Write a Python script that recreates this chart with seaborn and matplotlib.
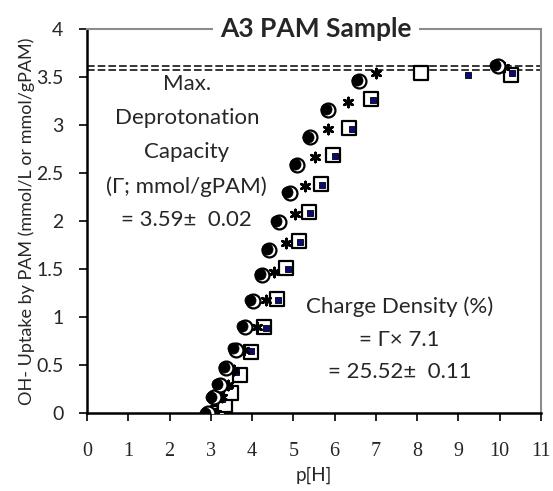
import matplotlib
matplotlib.use("Agg")
import matplotlib.pyplot as plt
import seaborn as sns
import pandas as pd

# ---- data ----
circle_open_x = [2.93, 3.07, 3.22, 3.38, 3.60, 3.82, 4.02, 4.25, 4.42, 4.65, 4.91, 5.09, 5.41, 5.85, 6.60, 9.95]
circle_open_y = [0.00, 0.17, 0.29, 0.47, 0.66, 0.90, 1.17, 1.44, 1.70, 1.99, 2.29, 2.58, 2.87, 3.16, 3.46, 3.61]

circle_fill_x = [2.87, 3.01, 3.16, 3.32, 3.53, 3.75, 3.95, 4.18, 4.36, 4.59, 4.85, 5.03, 5.35, 5.79, 6.54, 9.88]
circle_fill_y = [0.00, 0.17, 0.30, 0.48, 0.68, 0.91, 1.18, 1.45, 1.71, 2.00, 2.30, 2.59, 2.88, 3.17, 3.47, 3.62]

star_x = [3.13, 3.26, 3.42, 3.55, 3.80, 4.12, 4.33, 4.53, 4.81, 5.03, 5.29, 5.53, 5.85, 6.32, 7.00, 10.10]
star_y = [0.00, 0.17, 0.29, 0.45, 0.66, 0.90, 1.18, 1.47, 1.77, 2.07, 2.36, 2.67, 2.96, 3.24, 3.54, 3.60]

sq_open_x = [3.17, 3.34, 3.50, 3.70, 3.98, 4.30, 4.60, 4.83, 5.13, 5.37, 5.67, 5.97, 6.34, 6.88, 8.09, 10.27]
sq_open_y = [0.00, 0.08, 0.21, 0.40, 0.64, 0.90, 1.19, 1.51, 1.79, 2.09, 2.39, 2.69, 2.97, 3.27, 3.54, 3.52]

sq_navy_x = [3.10, 3.26, 3.44, 3.62, 3.98, 4.33, 4.62, 4.86, 5.17, 5.40, 5.70, 6.00, 6.42, 6.92, 9.22, 10.29]
sq_navy_y = [0.02, 0.15, 0.28, 0.43, 0.65, 0.89, 1.18, 1.50, 1.78, 2.08, 2.38, 2.68, 2.96, 3.26, 3.52, 3.54]

capacity_mean = 3.59
capacity_err = 0.02

x_ticks = list(range(0, 12))
y_ticks = [0, 0.5, 1, 1.5, 2, 2.5, 3, 3.5, 4]
y_ticklabels = ["0", "0.5", "1", "1.5", "2", "2.5", "3", "3.5", "4"]

title = "A3 PAM Sample"
xlabel = "p[H]"
ylabel = "OH- Uptake by PAM (mmol/L or mmol/gPAM)"
note_left = "Max.\nDeprotonation\nCapacity\n(\u0393; mmol/gPAM)\n= 3.59\u00b1  0.02"
note_right = "Charge Density (%)\n= \u0393\u00d7 7.1\n= 25.52\u00b1  0.11"

# ---- plotting ----
sns.set_theme(style="white")
plt.rcParams["font.family"] = ["Lato", "DejaVu Sans"]

fig = plt.figure(figsize=(5.53, 4.91), dpi=100)
ax = fig.add_axes([0.1573, 0.1589, 0.8210, 0.7820])

df_co = pd.DataFrame({"x": circle_open_x, "y": circle_open_y})
df_cf = pd.DataFrame({"x": circle_fill_x, "y": circle_fill_y})
df_st = pd.DataFrame({"x": star_x, "y": star_y})
df_so = pd.DataFrame({"x": sq_open_x, "y": sq_open_y})
df_sn = pd.DataFrame({"x": sq_navy_x, "y": sq_navy_y})

sns.scatterplot(data=df_so, x="x", y="y", ax=ax, marker="s", s=9.5**2,
                facecolor="white", edgecolor="black", linewidth=1.6, zorder=3)
sns.scatterplot(data=df_sn, x="x", y="y", ax=ax, marker="s", s=5.0**2,
                color="#0a0a7a", edgecolor="black", linewidth=0.6, zorder=4)
sns.scatterplot(data=df_st, x="x", y="y", ax=ax, marker=(6, 2, 0), s=6.5**2,
                color="black", edgecolor="black", linewidth=2.0, zorder=5)
sns.scatterplot(data=df_co, x="x", y="y", ax=ax, marker="o", s=10**2,
                facecolor="white", edgecolor="black", linewidth=1.6, zorder=6)
sns.scatterplot(data=df_cf, x="x", y="y", ax=ax, marker="o", s=8**2,
                color="black", edgecolor="black", linewidth=0.5, zorder=7)

for yv in (capacity_mean + capacity_err, capacity_mean - capacity_err):
    ax.axhline(yv, color="black", lw=1.1, ls=(0, (5, 2)), zorder=2)

ax.set_xlim(0, 11)
ax.set_ylim(0, 4)
ax.set_xticks(x_ticks)
ax.set_xticklabels([str(t) for t in x_ticks], family=["Liberation Serif"], fontsize=14.5)
ax.set_yticks(y_ticks)
ax.set_yticklabels(y_ticklabels, fontsize=14)
ax.tick_params(axis="both", direction="out", length=6, width=1.2, color="black",
               bottom=True, left=True)
ax.tick_params(axis="x", pad=15)
ax.tick_params(axis="y", pad=11)

for side in ("left", "bottom"):
    ax.spines[side].set_color("black")
    ax.spines[side].set_linewidth(1.8)
for side in ("top", "right"):
    ax.spines[side].set_color("#8c8c8c")
    ax.spines[side].set_linewidth(1.5)

ax.set_xlabel(xlabel, fontsize=13.5, labelpad=4)
ax.set_ylabel(ylabel, fontsize=13, labelpad=1)

ax.text(5.55, 4.0, title, ha="center", va="center", fontsize=19, fontweight="bold",
        bbox=dict(facecolor="white", edgecolor="none", pad=5), zorder=10, clip_on=False)

ax.text(2.42, 3.53, note_left, ha="center", va="top", fontsize=16,
        linespacing=1.86, zorder=8)
ax.text(7.57, 1.21, note_right, ha="center", va="top", fontsize=16,
        linespacing=1.78, zorder=8)

fig.savefig("out.png", dpi=100)
